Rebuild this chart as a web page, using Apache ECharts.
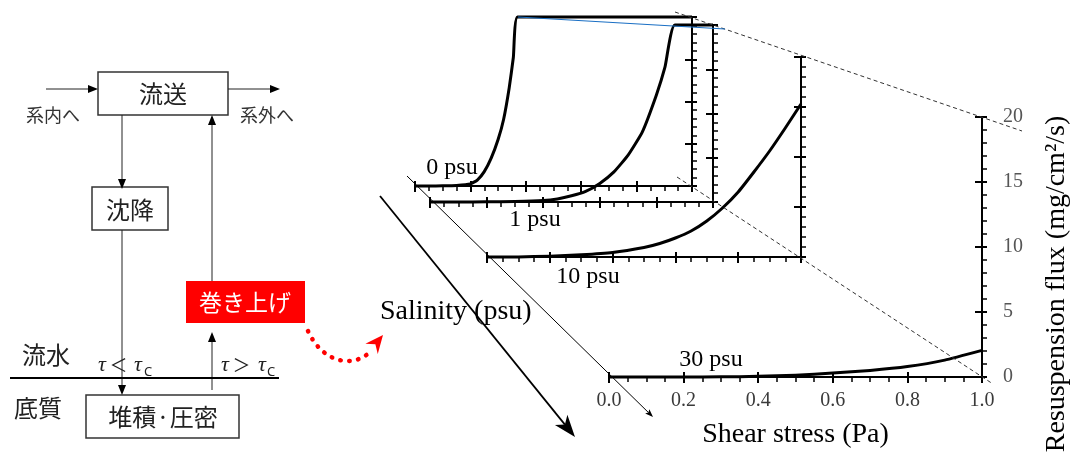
<!DOCTYPE html>
<html><head><meta charset="utf-8">
<script src="https://cdn.jsdelivr.net/npm/echarts@6/dist/echarts.min.js"></script>
<style>html,body{margin:0;padding:0;background:#fff}#c{width:1076px;height:453px}</style>
</head><body><div id="c"></div>
<script>
// ---------- data ----------
const shearTicks = ['0.0', '0.2', '0.4', '0.6', '0.8', '1.0'];
const fluxTicks = ['0', '5', '10', '15', '20'];
const salinityLabels = ['0 psu', '1 psu', '10 psu', '30 psu'];

const shear0 = [0, 0.05, 0.1, 0.15, 0.2, 0.225, 0.25, 0.275, 0.3, 0.32, 0.34, 0.355, 0.37, 0.5, 0.75, 1.0];
const flux0  = [0, 0, 0.02, 0.07, 0.25, 0.7, 1.7, 3.3, 5.5, 7.9, 11.6, 15.2, 20, 20, 20, 20];

const shear1 = [0, 0.1, 0.2, 0.3, 0.4, 0.45, 0.5, 0.55, 0.6, 0.65, 0.7, 0.75, 0.8, 0.83, 0.865, 1.0];
const flux1  = [0, 0, 0.02, 0.06, 0.17, 0.35, 0.7, 1.2, 2.1, 3.4, 5.3, 7.9, 12.1, 15.2, 20, 20];

const shear10 = [0, 0.1, 0.2, 0.3, 0.4, 0.5, 0.55, 0.6, 0.65, 0.7, 0.75, 0.8, 0.85, 0.9, 0.95, 1.0];
const flux10  = [0, 0.01, 0.08, 0.22, 0.45, 0.95, 1.35, 1.9, 2.6, 3.6, 4.9, 6.5, 8.5, 10.6, 12.9, 15.3];

const shear30 = [0, 0.1, 0.2, 0.3, 0.4, 0.5, 0.6, 0.7, 0.8, 0.9, 1.0];
const flux30  = [0, 0, 0, 0.01, 0.05, 0.14, 0.3, 0.5, 0.8, 1.3, 2.05];

const xAxisTitle = 'Shear stress (Pa)';
const yAxisTitle = 'Resuspension flux (mg/cm²/s)';
const salinityTitle = 'Salinity (psu)';

// ---------- layout / style ----------
const SERIF = '"Liberation Serif", "Times New Roman", serif';
const JP = '"Noto Sans CJK JP", "Noto Sans", sans-serif';
const panels = [
  { box: {left: 415, top: 17, width: 277, height: 169}, xs: shear0, ys: flux0, label: [452, 168] },
  { box: {left: 430, top: 25, width: 283, height: 177}, xs: shear1, ys: flux1, label: [535, 220] },
  { box: {left: 487, top: 57, width: 314, height: 200}, xs: shear10, ys: flux10, label: [588, 277] },
  { box: {left: 609, top: 117, width: 373, height: 260}, xs: shear30, ys: flux30, label: [711, 360] }
];

const grids = [], xAxes = [], yAxes = [], series = [];
panels.forEach((p, i) => {
  const front = i === panels.length - 1;
  grids.push(Object.assign({containLabel: false, outerBoundsMode: 'none'}, p.box));
  const xBase = {type: 'value', gridIndex: i, min: 0, max: 1, interval: 0.2, position: 'bottom',
    splitLine: {show: false}, minorSplitLine: {show: false}};
  xAxes.push(Object.assign({}, xBase, {
    axisLine: {show: true, onZero: false, lineStyle: {color: '#000', width: 2}},
    axisTick: {show: true, inside: false, length: 6, lineStyle: {color: '#000', width: 2}},
    minorTick: {show: true, splitNumber: 4, length: 5, lineStyle: {color: '#000', width: 1.5}},
    axisLabel: {show: front, margin: 14, color: '#3a3a3a', fontFamily: SERIF, fontSize: 20,
      formatter: v => shearTicks[Math.round(v / 0.2)]},
    name: front ? xAxisTitle : '', nameLocation: 'middle', nameGap: 44,
    nameTextStyle: {fontFamily: SERIF, fontSize: 28, color: '#000'}
  }));
  xAxes.push(Object.assign({}, xBase, {
    axisLine: {show: false, onZero: false}, axisLabel: {show: false},
    axisTick: {show: true, inside: true, length: 5, lineStyle: {color: '#000', width: 2}},
    minorTick: {show: false}
  }));
  const yBase = {type: 'value', gridIndex: i, min: 0, max: 20, interval: 5, position: 'right',
    splitLine: {show: false}, minorSplitLine: {show: false}};
  yAxes.push(Object.assign({}, yBase, {
    axisLine: {show: true, onZero: false, lineStyle: {color: '#000', width: 2}},
    axisTick: {show: true, inside: false, length: 5, lineStyle: {color: '#000', width: 2}},
    minorTick: {show: true, splitNumber: 5, length: 5, lineStyle: {color: '#000', width: 1.5}},
    axisLabel: {show: front, margin: 21, color: '#555', fontFamily: SERIF, fontSize: 20,
      formatter: v => fluxTicks[Math.round(v / 5)]},
    name: front ? yAxisTitle : '', nameLocation: 'middle', nameGap: 61, nameRotate: 90,
    nameTextStyle: {fontFamily: SERIF, fontSize: 28, color: '#000', padding: [0, 74, 0, 0]}
  }));
  yAxes.push(Object.assign({}, yBase, {
    axisLine: {show: false, onZero: false}, axisLabel: {show: false},
    axisTick: {show: true, inside: true, length: 7, lineStyle: {color: '#000', width: 2}},
    minorTick: {show: false}
  }));
  series.push({
    type: 'line', name: salinityLabels[i], xAxisIndex: 2 * i, yAxisIndex: 2 * i,
    data: p.xs.map((x, k) => [x, p.ys[k]]),
    smooth: 0.15, showSymbol: false, clip: false, z: 5,
    lineStyle: {color: '#000', width: 3, join: 'round'}
  });
});

// ---------- graphic helpers ----------
function ln(x1, y1, x2, y2, st) {
  return {type: 'line', silent: true, z: 10, shape: {x1, y1, x2, y2},
    style: Object.assign({stroke: '#222', lineWidth: 1}, st || {})};
}
function head(tx, ty, fx, fy, len, hw, notch, color) {
  const dx = tx - fx, dy = ty - fy, L = Math.hypot(dx, dy);
  const ux = dx / L, uy = dy / L, px = -uy, py = ux;
  const bx = tx - ux * len, by = ty - uy * len;
  const nx = tx - ux * (len - notch), ny = ty - uy * (len - notch);
  return {type: 'polygon', silent: true, z: 11,
    shape: {points: [[tx, ty], [bx + px * hw, by + py * hw], [nx, ny], [bx - px * hw, by - py * hw]]},
    style: {fill: color || '#000'}};
}
function arrow(x1, y1, x2, y2, len, hw, notch, st, color) {
  const L = Math.hypot(x2 - x1, y2 - y1);
  const ex = x2 - (x2 - x1) / L * (len - notch), ey = y2 - (y2 - y1) / L * (len - notch);
  return [ln(x1, y1, ex, ey, st), head(x2, y2, x1, y1, len, hw, notch, color)];
}
function txt(x, y, s, font, fill, align, extra) {
  return Object.assign({type: 'text', silent: true, z: 12, x, y,
    style: {text: s, font, fill: fill || '#000', textAlign: align || 'center', textVerticalAlign: 'middle'}}, extra || {});
}
function box(x, y, w, h) {
  return {type: 'rect', silent: true, z: 9, shape: {x, y, width: w, height: h},
    style: {fill: '#fff', stroke: '#333', lineWidth: 1.5}};
}

const G = [];
// flow diagram
G.push(box(98, 72, 130, 43), txt(163, 94, '流送', '24px ' + JP, '#222'));
G.push(...arrow(46, 89, 98, 89, 10, 4, 0, {stroke: '#222'}));
G.push(...arrow(228, 89, 280, 89, 10, 4, 0, {stroke: '#222'}));
G.push(txt(53, 115, '系内へ', '18px ' + JP, '#333'), txt(267, 115, '系外へ', '18px ' + JP, '#333'));
G.push(...arrow(122, 115, 122, 189, 10, 4, 0, {stroke: '#222'}));
G.push(box(92, 187, 76, 43), txt(130, 210, '沈降', '24px ' + JP, '#222'));
G.push(...arrow(122, 230, 122, 395, 10, 4, 0, {stroke: '#222'}));
G.push(...arrow(212, 281, 212, 115, 10, 4, 0, {stroke: '#222'}));
G.push({type: 'rect', silent: true, z: 9, shape: {x: 186, y: 281, width: 119, height: 42}, style: {fill: '#ff0000'}});
G.push(txt(245, 302, '巻き上げ', '23px ' + JP, '#fff'));
G.push(...arrow(212, 390, 212, 332, 10, 4, 0, {stroke: '#222'}));
G.push(ln(10, 378, 279, 378, {stroke: '#000', lineWidth: 2}));
G.push(txt(46, 355, '流水', '24px ' + JP, '#222'), txt(38, 408, '底質', '24px ' + JP, '#222'));
// tau expressions
function tau(xs, op) {
  return [
    txt(xs[0], 365, 'τ', 'italic 22px ' + SERIF, '#222'),
    txt(xs[1], 365, op, '18px ' + JP, '#222'),
    txt(xs[2], 365, 'τ', 'italic 22px ' + SERIF, '#222'),
    txt(xs[3], 372, 'C', '13px "Noto Sans", sans-serif', '#222')
  ];
}
G.push(...tau([102, 118.5, 138, 148], '＜'));
G.push(...tau([225, 241.5, 262, 271], '＞'));
G.push(box(86, 395, 153, 43), txt(163, 417, '堆積·圧密', '24px ' + JP, '#222'));
// red dotted arrow
G.push({type: 'bezierCurve', silent: true, z: 10,
  shape: {x1: 308, y1: 331, cpx1: 322, cpy1: 362, cpx2: 352, cpy2: 369, x2: 370, y2: 352},
  style: {stroke: '#ff0000', lineWidth: 4.5, lineCap: 'round', lineDash: [0.5, 8.5], fill: null}});
G.push(head(383, 335, 371.5, 349, 18, 8, 6, '#ff0000'));

// perspective decoration
G.push(ln(675, 12, 1022, 131, {stroke: '#333', lineDash: [4, 3]}));
G.push(ln(677, 177, 993, 384, {stroke: '#333', lineDash: [4, 3]}));
G.push(ln(518, 17, 725, 29, {stroke: '#1a6fc4', lineWidth: 1.2}));
G.push(...arrow(407, 176, 653, 417, 8, 3, 1.5, {stroke: '#000', lineWidth: 1}));
G.push(...arrow(380, 196, 575, 437, 22, 8, 6, {stroke: '#000', lineWidth: 1.8}));
G.push(txt(380, 312, salinityTitle, '28px ' + SERIF, '#000', 'left'));
panels.forEach((p, i) => G.push(txt(p.label[0], p.label[1], salinityLabels[i], '24px ' + SERIF, '#000')));

const chart = echarts.init(document.getElementById('c'), null, {renderer: 'canvas'});
chart.setOption({
  animation: false,
  backgroundColor: '#fff',
  grid: grids,
  xAxis: xAxes,
  yAxis: yAxes,
  series: series,
  graphic: {elements: G}
});
</script>
</body></html>
